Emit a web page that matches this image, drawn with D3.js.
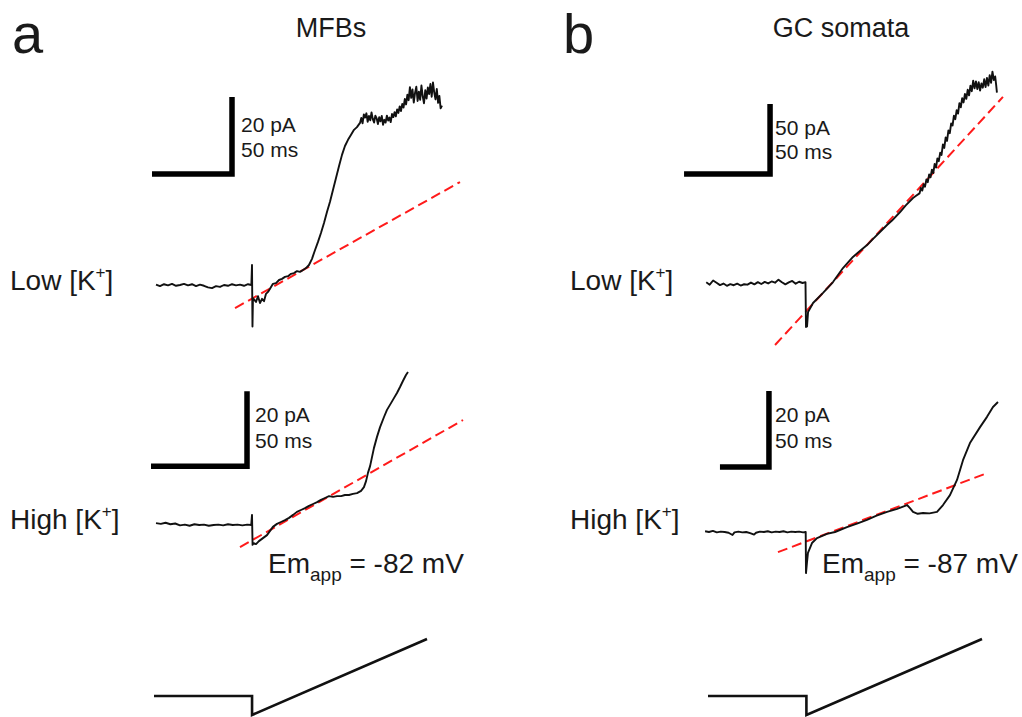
<!DOCTYPE html>
<html>
<head>
<meta charset="utf-8">
<script src="https://cdn.jsdelivr.net/npm/d3@7"></script>
<style>
  html, body { margin: 0; padding: 0; background: #fff; }
  #fig { width: 1022px; height: 717px; }
  text { font-family: "Liberation Sans", Arial, sans-serif; fill: #1a1a1a; }
</style>
</head>
<body>
<div id="fig"></div>
<script>
// Current traces, [time (ms), current (pA)], time 0 = start of the ramp
const aLowTrace = [
  [-60, 0.1], [-57.5, -0.3], [-55, 0.2], [-52.5, -0.1], [-50, 0.3], [-47.5, -0.2], [-45, 0.0], [-42.5, 0.3],
  [-40, -0.1], [-37.5, 0.2], [-35, -0.3], [-32.5, 0.1], [-30, -0.2], [-27.5, -0.6], [-25, -0.8], [-22.5, -0.3],
  [-20, -0.5], [-17.5, 0.0], [-15, -0.2], [-12.5, 0.2], [-10, -0.1], [-7.5, 0.1], [-5, -0.2], [-2.5, 0.2],
  [-0.4, 0.0], [0, 5.2], [0.3, -10.8], [0.6, -3.4], [2.5, -4.4], [3.75, -2.9], [5, -4.7], [6.25, -3.6],
  [7.5, -4.2], [8.75, -2.3], [10, -1.8], [11.25, -1.0], [13.1, 0.3], [15, 0.5], [16.9, 1.3], [18.75, 1.6],
  [20.6, 2.1], [22.5, 2.3], [24.4, 2.9], [26.25, 3.1], [28.1, 3.6], [30, 3.4], [31.9, 3.9], [33.75, 4.4],
  [35.6, 5.2], [37.5, 6.8], [39.4, 9.1], [41.25, 11.2], [43.1, 13.5], [45, 16.1], [46.9, 19.0], [48.75, 21.6],
  [50.6, 24.7], [52.5, 27.8], [54.4, 30.9], [56.25, 33.8], [58.1, 36.1], [60, 37.7], [61.9, 39.0], [63.75, 40.3],
  [65.6, 41.0], [67.5, 42.1], [68.3, 43.4], [69.1, 42.0], [69.9, 44.3], [70.7, 43.5], [71.5, 44.6], [72.3, 42.4],
  [73.1, 43.9], [73.9, 42.8], [74.7, 44.8], [75.5, 43.1], [76.3, 42.2], [77.1, 44.0], [77.9, 43.3], [78.7, 41.8],
  [79.5, 43.6], [80.3, 42.5], [81.1, 43.9], [81.9, 41.6], [82.7, 42.9], [83.5, 42.2], [84.3, 44.0], [85.1, 42.7],
  [85.9, 43.5], [86.7, 42.3], [87.5, 44.4], [88.3, 43.6], [89.1, 44.9], [89.9, 43.8], [90.7, 45.6], [91.5, 44.7],
  [92.3, 46.4], [93.1, 45.2], [93.9, 47.0], [94.7, 46.1], [95.5, 48.3], [96.3, 46.9], [97.1, 49.4], [97.9, 48.0],
  [98.7, 51.4], [99.5, 48.6], [100.3, 50.8], [101.1, 47.4], [101.9, 49.9], [102.7, 51.5], [103.5, 47.8], [104.3, 50.2],
  [105.1, 48.1], [105.9, 51.8], [106.7, 49.0], [107.5, 47.2], [108.3, 50.6], [109.1, 48.4], [109.9, 51.3], [110.7, 49.6],
  [111.5, 52.2], [112.3, 48.9], [113.1, 52.6], [113.9, 50.0], [114.7, 48.2], [115.5, 50.9], [116.3, 47.3], [117.1, 49.1],
  [117.9, 45.9], [118.75, 46.6]
];

const aHighTrace = [
  [-50, 0.5], [-47.5, 0.3], [-45, 0.6], [-42.5, 0.2], [-40, 0.4], [-37.5, -0.1], [-35, 0.1], [-32.5, -0.2],
  [-30, 0.2], [-27.5, 0.0], [-25, 0.1], [-22.5, -0.2], [-20, 0.0], [-17.5, 0.1], [-15, -0.1], [-12.5, 0.2],
  [-10, 0.0], [-7.5, 0.1], [-5, -0.1], [-2.5, 0.1], [-0.4, 0.0], [0, 2.7], [0.3, -5.3], [0.5, -4.8],
  [2.1, -5.1], [3.6, -4.3], [5.7, -3.5], [7.8, -2.7], [10.9, -0.5], [13.0, 0.3], [15.1, 0.8], [17.2, 1.3],
  [19.3, 1.9], [21.4, 2.7], [23.4, 3.5], [25.5, 4.0], [27.6, 4.5], [29.7, 5.1], [31.8, 5.6], [33.9, 6.1],
  [35.9, 6.7], [38.0, 7.2], [40.1, 7.7], [42.2, 7.5], [44.3, 7.7], [46.4, 7.7], [48.4, 8.0], [50.5, 8.0],
  [52.6, 8.3], [54.7, 8.5], [56.8, 9.1], [58.3, 10.1], [59.4, 11.7], [60.4, 13.9], [61.5, 15.7], [62.5, 18.1],
  [63.5, 20.5], [65.1, 23.5], [66.7, 26.1], [68.75, 28.8], [70.3, 30.7], [72.4, 32.5], [74.0, 33.9], [75.5, 35.2],
  [77.1, 36.8], [78.6, 38.4], [80.2, 40.0], [81.25, 40.8]
];

const bLowTrace = [
  [-58, 0.5], [-56, -1.2], [-54, 1.8], [-52, 0.2], [-50, -1.5], [-48, -0.4], [-46, -2.0], [-44, -0.8],
  [-42, -1.6], [-40, -0.5], [-38, -1.8], [-36, -0.9], [-34, -1.2], [-32, 0.3], [-30, -1.0], [-28, 0.6],
  [-26, -0.7], [-24, 0.8], [-22, -0.3], [-20, 1.1], [-18, 0.2], [-16, 2.4], [-14, 0.5], [-12, -1.0],
  [-10, 0.4], [-8, 1.5], [-6, -0.5], [-4, 0.9], [-2, 0.0], [-0.3, 0.6], [0, -31.4], [0.6, -31.0],
  [1.2, -20.7], [4.1, -14.3], [9.9, -7.1], [15.7, 0.7], [21.5, 10.7], [27.3, 18.6], [31, 22.5], [35.5, 27.1],
  [39, 31.5], [43.0, 36.4], [47.1, 41.4], [50, 44.6], [54.7, 50.7], [58, 55.5], [62.2, 60.7], [64, 62.3],
  [66, 64], [66.8, 68], [67.6, 66], [68.4, 70.5], [69.2, 68.8], [70, 74], [70.8, 72], [71.6, 77.5],
  [72.4, 75.5], [73.2, 81], [74, 78.5], [74.8, 85], [75.6, 82.5], [76.4, 89], [77.2, 87], [78, 93],
  [78.8, 91.5], [79.6, 99], [80.4, 96.5], [81.2, 104], [82, 101.5], [82.8, 109], [83.6, 107], [84.4, 114],
  [85.2, 112.5], [86, 119.5], [86.8, 117], [87.6, 123.5], [88.4, 121], [89.2, 128.5], [90, 125.5], [90.8, 132],
  [91.6, 129], [92.4, 135], [93.2, 131.5], [94, 138], [94.8, 134], [95.6, 141], [96.4, 137], [97.2, 144.5],
  [98, 139], [98.8, 144], [99.6, 138.5], [100.4, 143.5], [101.2, 137.5], [102, 142.5], [102.8, 139.5], [103.6, 145.5],
  [104.4, 140], [105.2, 146.5], [106, 141], [106.8, 148.5], [107.6, 143], [108.4, 151], [109.2, 145], [110, 147.5],
  [110.6, 141], [111, 136]
];

const bHighTrace = [
  [-103, 0.2], [-99, 0.0], [-95, 0.3], [-91, -0.1], [-87, 0.1], [-83, 0.0], [-79, -0.2], [-75, -0.8],
  [-73, -0.1], [-69, 0.1], [-65, -0.1], [-61, 0.0], [-57, -0.3], [-53, -0.7], [-51, -0.2], [-47, 0.1],
  [-43, 0.0], [-39, 0.2], [-35, -0.1], [-31, 0.1], [-27, 0.0], [-23, 0.2], [-19, -0.1], [-15, 0.1],
  [-11, 0.0], [-7, 0.1], [-3, -0.1], [-0.3, 0.0], [0, -10.8], [1.0, -8.0], [2.0, -5.5], [6.1, -2.9],
  [11.2, -1.6], [21.4, -0.5], [29.6, 0.0], [41.8, 1.3], [52, 2.2], [62.2, 3.2], [72, 4.3], [82.7, 5.3],
  [93, 6.1], [103.1, 7.1], [106.1, 6.3], [109.2, 5.3], [114, 4.8], [119.4, 5.0], [126, 4.9], [133.7, 5.3],
  [139.8, 7.1], [146.9, 9.7], [154.1, 13.7], [160.2, 18.9], [167.3, 23.4], [177.6, 27.6], [184.7, 30.3], [190.8, 32.9],
  [195.9, 34.2]
];

// Linear fits (red dashed), two end points [ms, pA]
const aLowFit = [[-10.6, -6.0], [130, 26.75]];
const aHighFit = [[-6.25, -5.9], [109.9, 28.0]];
const bLowFit = [[-18.0, -44.3], [114.5, 132.9]];
const bHighFit = [[-28.6, -5.3], [184.7, 15.5]];

// Scale bars: size and corner position [ms, pA]
const scaleMs = [50, 50, 50, 50];
const scalePa = [20, 20, 50, 20];
const scaleCorner = [[-12.5, 28.8], [-2.6, 15.7], [-20.9, 77.9], [-37.8, 17.1]];

// Voltage command (ramp protocol)
const rampTime = [-51, 0, 0, 91];
const rampVolt = [-80, -80, -120, 40];

// Labels
const panelLetters = ['a', 'b'];
const columnTitles = ['MFBs', 'GC somata'];
const rowLabels = ['Low [K', 'High [K'];
const emValues = ['-82 mV', '-87 mV'];

document.addEventListener('DOMContentLoaded', function() {
    const svg = d3.select('#fig').append('svg')
        .attr('width', 1022)
        .attr('height', 717);

    // Pixel layout of each trace panel: the domain span equals the scale bar
    const panels = [
        { trace: aLowTrace, fit: aLowFit, x: [252, 332], y: [285, 208], lab: [9, -42, -17] },
        { trace: aHighTrace, fit: aHighFit, x: [252, 348], y: [525, 450], lab: [8, -44, -18] },
        { trace: bLowTrace, fit: bLowFit, x: [806, 892], y: [283, 213], lab: [5, -39, -15] },
        { trace: bHighTrace, fit: bHighFit, x: [806, 855], y: [532, 456], lab: [6, -45, -19] }
    ];

    panels.forEach(function(p, i) {
        const xScale = d3.scaleLinear().domain([0, scaleMs[i]]).range(p.x);
        const yScale = d3.scaleLinear().domain([0, scalePa[i]]).range(p.y);

        const line = d3.line()
            .x(d => xScale(d[0]))
            .y(d => yScale(d[1]));

        const g = svg.append('g').attr('class', 'panel');

        // Fit line
        g.append('path')
            .datum(p.fit)
            .attr('d', line)
            .attr('fill', 'none')
            .attr('stroke', '#ff1a1a')
            .attr('stroke-width', 2)
            .attr('stroke-dasharray', '10,5');

        // Trace
        g.append('path')
            .datum(p.trace)
            .attr('d', line)
            .attr('fill', 'none')
            .attr('stroke', '#111')
            .attr('stroke-width', 1.9)
            .attr('stroke-linejoin', 'round');

        // Scale bar
        const c = scaleCorner[i];
        const bar = [[c[0] - scaleMs[i], c[1]], [c[0], c[1]], [c[0], c[1] + scalePa[i]]];
        g.append('path')
            .datum(bar)
            .attr('d', line)
            .attr('fill', 'none')
            .attr('stroke', '#000')
            .attr('stroke-width', 5.5)
            .attr('stroke-linejoin', 'miter');

        const cx = xScale(c[0]), cy = yScale(c[1]);
        g.append('text')
            .attr('x', cx + p.lab[0])
            .attr('y', cy + p.lab[1])
            .style('font-size', '21px')
            .text(scalePa[i] + ' pA');
        g.append('text')
            .attr('x', cx + p.lab[0])
            .attr('y', cy + p.lab[2])
            .style('font-size', '21px')
            .text(scaleMs[i] + ' ms');
    });

    // Voltage ramps at the bottom
    const rampY = d3.scaleLinear().domain([-80, -120]).range([696, 715]);
    [[154, 427], [708, 982]].forEach(function(r) {
        const rampX = d3.scaleLinear().domain([rampTime[0], rampTime[3]]).range(r);
        svg.append('path')
            .datum(d3.zip(rampTime, rampVolt))
            .attr('d', d3.line().x(d => rampX(d[0])).y(d => rampY(d[1])))
            .attr('fill', 'none')
            .attr('stroke', '#111')
            .attr('stroke-width', 2.6)
            .attr('stroke-linejoin', 'miter');
    });

    // Panel letters and column titles
    [12, 563].forEach(function(x, i) {
        svg.append('text')
            .attr('x', x)
            .attr('y', 53)
            .style('font-size', '56px')
            .text(panelLetters[i]);
    });
    [331, 841].forEach(function(x, i) {
        svg.append('text')
            .attr('x', x)
            .attr('y', 37)
            .attr('text-anchor', 'middle')
            .style('font-size', '27px')
            .text(columnTitles[i]);
    });

    // Row labels with superscript +
    [10, 570].forEach(function(x) {
        [290, 529].forEach(function(y, j) {
            const t = svg.append('text')
                .attr('x', x)
                .attr('y', y)
                .style('font-size', '28px');
            t.append('tspan').text(rowLabels[j]);
            t.append('tspan').attr('dy', -12).style('font-size', '17px').text('+');
            t.append('tspan').attr('dy', 12).text(']');
        });
    });

    // Apparent membrane potential
    [268, 822].forEach(function(x, i) {
        const t = svg.append('text')
            .attr('x', x)
            .attr('y', 573)
            .style('font-size', '28px');
        t.append('tspan').text('Em');
        t.append('tspan').attr('dy', 8).style('font-size', '19px').text('app');
        t.append('tspan').attr('dy', -8).text(' = ' + emValues[i]);
    });
});
</script>
</body>
</html>
